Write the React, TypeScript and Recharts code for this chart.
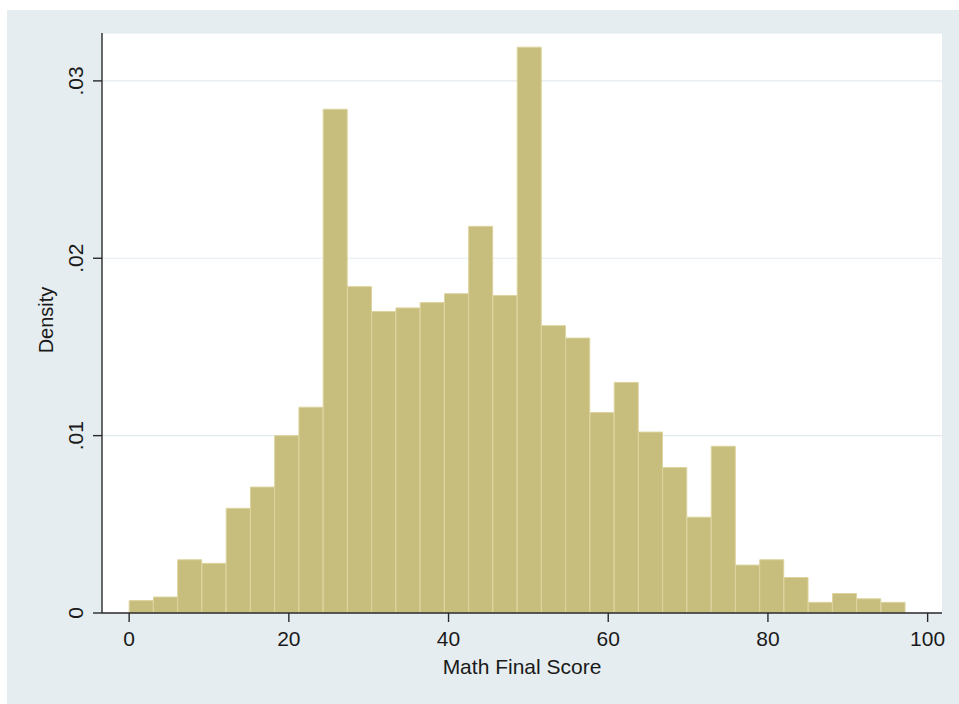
import React from "react";
import { BarChart, Bar, XAxis, YAxis, CartesianGrid, Label } from "recharts";

// Histogram bin midpoints (Math Final Score), 32 bins of width ~3.04
const binMid = [
  1.52, 4.56, 7.59, 10.63, 13.67, 16.71, 19.74, 22.78, 25.82, 28.86, 31.89,
  34.93, 37.97, 41.01, 44.04, 47.08, 50.12, 53.16, 56.19, 59.23, 62.27, 65.31,
  68.34, 71.38, 74.42, 77.46, 80.49, 83.53, 86.57, 89.61, 92.64, 95.68,
];

// Density per bin
const density = [
  0.0007, 0.0009, 0.003, 0.0028, 0.0059, 0.0071, 0.01, 0.0116, 0.0284, 0.0184,
  0.017, 0.0172, 0.0175, 0.018, 0.0218, 0.0179, 0.0319, 0.0162, 0.0155, 0.0113,
  0.013, 0.0102, 0.0082, 0.0054, 0.0094, 0.0027, 0.003, 0.002, 0.0006, 0.0011,
  0.0008, 0.0006,
];

const xTicks = [0, 20, 40, 60, 80, 100];
const yTicks = [0, 0.01, 0.02, 0.03];
const yTickLabels = ["0", ".01", ".02", ".03"];

const data = binMid.map((m, i) => ({ mid: m, density: density[i] }));

const FONT = "'Liberation Sans', Arial, Helvetica, sans-serif";
const AXIS = "#2a2a2a";

const YTick = (props: any) => {
  const { x, y, payload } = props;
  const idx = yTicks.indexOf(payload.value);
  const label = idx >= 0 ? yTickLabels[idx] : String(payload.value);
  return (
    <text
      x={x}
      y={y}
      transform={`rotate(-90 ${x} ${y})`}
      textAnchor="middle"
      fontFamily={FONT}
      fontSize={21}
      fill="#1a1a1a"
    >
      {label}
    </text>
  );
};

const XTick = (props: any) => {
  const { x, y, payload } = props;
  return (
    <text
      x={x}
      y={y}
      dy="0.72em"
      textAnchor="middle"
      fontFamily={FONT}
      fontSize={21}
      fill="#1a1a1a"
    >
      {payload.value}
    </text>
  );
};

export default function App() {
  return (
    <div
      style={{
        position: "absolute",
        left: 7,
        top: 10,
        width: 952,
        height: 694,
        background: "#E5EDF0",
      }}
    >
      <BarChart
        width={952}
        height={694}
        data={data}
        margin={{ top: 23, right: 17, left: 0, bottom: 0 }}
        barCategoryGap={0}
        barGap={0}
      >
        <CartesianGrid vertical={false} fill="#ffffff" stroke="#E2EAEE" strokeWidth={1.2} />
        <XAxis
          dataKey="mid"
          type="number"
          domain={[-3.4, 101.8]}
          ticks={xTicks}
          interval={0}
          allowDataOverflow
          height={91}
          tickSize={9}
          tickMargin={9}
          tick={<XTick />}
          axisLine={{ stroke: AXIS, strokeWidth: 1.4 }}
          tickLine={{ stroke: AXIS, strokeWidth: 1.4 }}
        >
          <Label
            value="Math Final Score"
            position="insideTop"
            offset={46}
            style={{ fontFamily: FONT, fontSize: 21, fill: "#1a1a1a" }}
          />
        </XAxis>
        <YAxis
          type="number"
          domain={[0, 0.0327]}
          ticks={yTicks}
          interval={0}
          allowDataOverflow
          width={95}
          tickSize={9}
          tickMargin={10}
          tick={<YTick />}
          axisLine={{ stroke: AXIS, strokeWidth: 1.4 }}
          tickLine={{ stroke: AXIS, strokeWidth: 1.4 }}
        >
          <Label
            content={(p: any) => {
              const vb = p.viewBox || {};
              const cx = 39;
              const cy = (vb.y ?? 23) + (vb.height ?? 580) / 2 - 3;
              return (
                <text
                  x={cx}
                  y={cy}
                  transform={`rotate(-90 ${cx} ${cy})`}
                  textAnchor="middle"
                  dominantBaseline="central"
                  fontFamily={FONT}
                  fontSize={20}
                  fill="#1a1a1a"
                >
                  Density
                </text>
              );
            }}
          />
        </YAxis>
        <Bar
          dataKey="density"
          fill="#C7BD7C"
          stroke="#DCD39E"
          strokeWidth={1}
          isAnimationActive={false}
        />
      </BarChart>
    </div>
  );
}
